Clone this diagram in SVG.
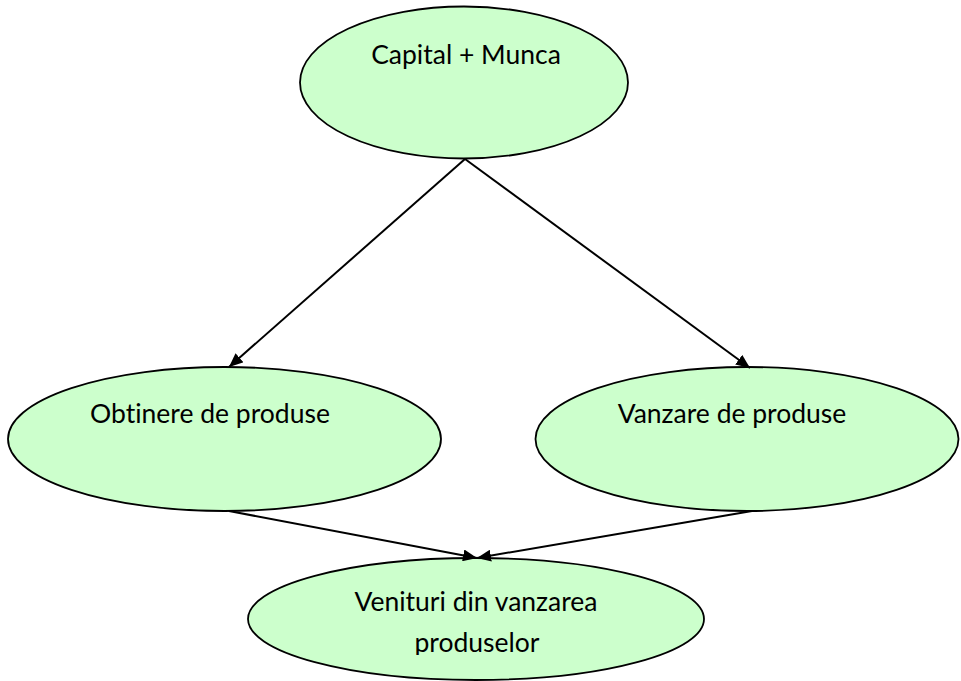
<svg xmlns="http://www.w3.org/2000/svg" width="961" height="681" viewBox="0 0 961 681">
<style>
.node ellipse{fill:#ccffcc;stroke:#000;stroke-width:1.8}
.lbl{font-family:"Lato","Open Sans",sans-serif;font-size:26.5px;fill:#000;text-anchor:middle;font-variant-ligatures:none}
.edge{stroke:#000;stroke-width:2;fill:none;marker-end:url(#ah)}
</style>
<defs>
<marker id="ah" viewBox="0 0 14 12" refX="14" refY="6" markerWidth="14" markerHeight="12" markerUnits="userSpaceOnUse" orient="auto">
<path d="M0,0 L14,6 L0,12 z" fill="#000"/>
</marker>
<clipPath id="clipBottom"><rect x="0" y="0" width="961" height="655"/></clipPath>
</defs>
<rect width="961" height="681" fill="#fff"/>
<g id="n-capital" class="node">
<ellipse cx="464" cy="82.5" rx="164" ry="76"/>
<text class="lbl" x="466" y="64">Capital + Munca</text>
</g>
<g id="n-obtinere" class="node">
<ellipse cx="224.5" cy="439" rx="216.5" ry="72"/>
<text class="lbl" x="210" y="423">Obtinere de produse</text>
</g>
<g id="n-vanzare" class="node">
<ellipse cx="747" cy="439" rx="211.5" ry="72"/>
<text class="lbl" x="732" y="423">Vanzare de produse</text>
</g>
<g id="n-venituri" class="node">
<ellipse cx="476" cy="619" rx="228" ry="61"/>
<g clip-path="url(#clipBottom)">
<text class="lbl" x="476" y="611">Venituri din vanzarea</text>
<text class="lbl" x="477" y="652">produselor</text>
</g>
</g>
<g id="connectors">
<line class="edge" x1="465" y1="159" x2="229" y2="367"/>
<line class="edge" x1="465" y1="159" x2="750" y2="368"/>
<line class="edge" x1="229" y1="511" x2="477" y2="558"/>
<line class="edge" x1="752" y1="511" x2="477" y2="558"/>
</g>
</svg>
